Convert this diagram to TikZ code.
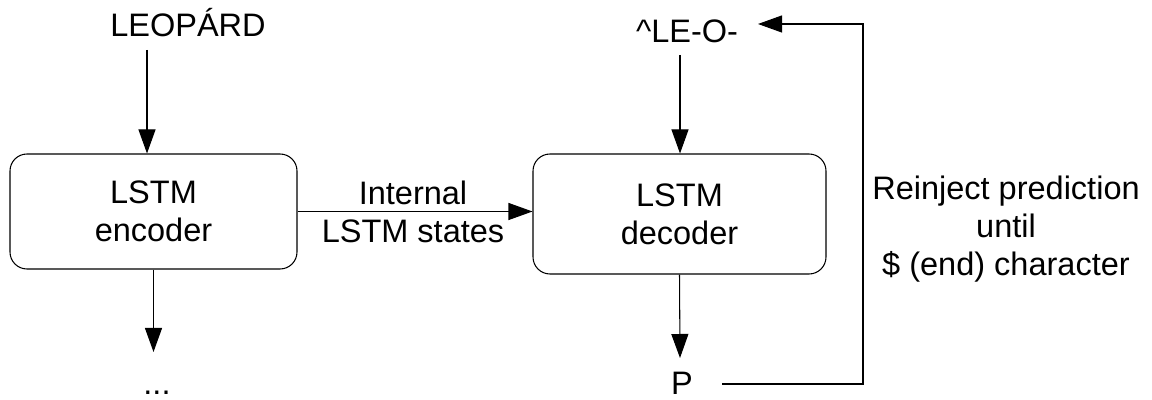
\documentclass[tikz,border=0pt]{standalone}
\usepackage{fontspec}
\setmainfont{Liberation Sans}
\usetikzlibrary{arrows.meta}

\begin{document}
\begin{tikzpicture}[>={Triangle[length=0.48cm,width=0.34cm]}, line width=0.6pt,
    font=\fontsize{18.5}{21.5}\selectfont,
    block/.style={draw, rounded corners=0.34cm, align=center}]
    \useasboundingbox (0,0) rectangle (23.04,8);

    % Nodes
    \node [block, minimum width=5.74cm, minimum height=2.30cm] (enc) at (3.07, 3.77) {LSTM\\encoder};
    \node [block, minimum width=5.86cm, minimum height=2.40cm] (dec) at (13.59, 3.72) {LSTM\\decoder};

    % Inputs and outputs
    \node [anchor=base] (word) at (3.76, 7.26) {LEOPÁRD};
    \node [anchor=base] (prefix) at (13.74, 7.14) {\textasciicircum LE-O-};
    \node [anchor=base] (dots) at (3.14, 0.1) {...};
    \node [anchor=base] (pred) at (13.64, 0.1) {P};
    \node [align=center] (states) at (8.26, 3.76) {Internal\\LSTM states};
    \node [align=center] (loop) at (20.12, 3.42) {Reinject prediction\\until\\\$ (end) character};

    % Free ends
    \coordinate (inA) at (2.94, 7.0);
    \coordinate (inB) at (13.6, 6.9);
    \coordinate (outA) at (3.07, 0.96);
    \coordinate (outB) at (13.6, 0.84);
    \coordinate (fbStart) at (14.44, 0.32);
    \coordinate (fbTop) at (17.26, 7.52);
    \coordinate (fbEnd) at (15.16, 7.52);

    % Edges
    \draw[->] (inA) -- (inA |- enc.north);
    \draw[->] (inB) -- (inB |- dec.north);
    \draw[->] (enc.south) -- (outA);
    \draw[->] (dec.south) -- (outB);
    \draw[->] (enc.east) -- (enc.east -| dec.west);
    \draw[->] (fbStart) -| (fbTop) -- (fbEnd);
\end{tikzpicture}
\end{document}
